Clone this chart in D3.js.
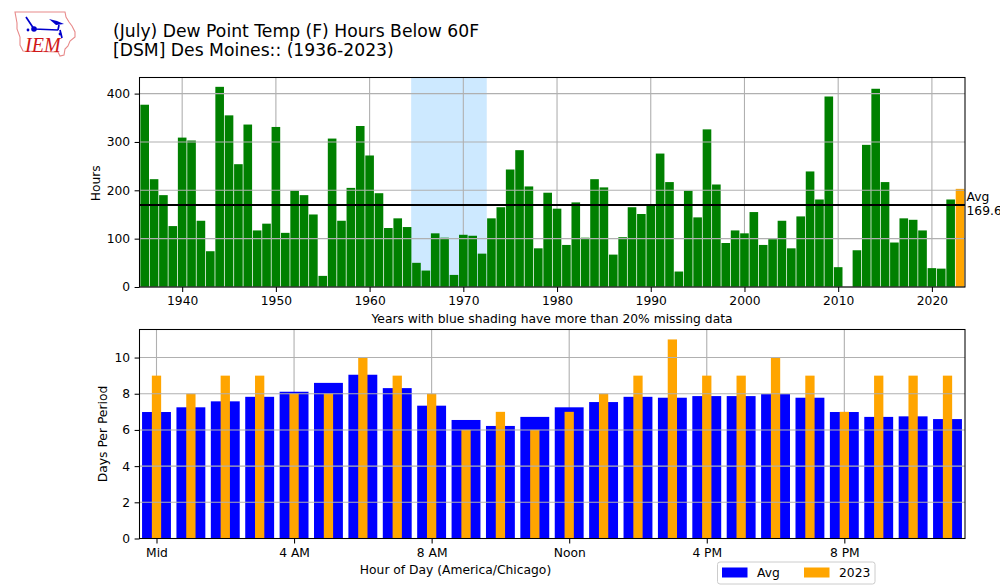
<!DOCTYPE html>
<html><head><meta charset="utf-8">
<script src="https://cdn.jsdelivr.net/npm/d3@7"></script>
<style>
html,body{margin:0;padding:0;background:#fff;}
svg{display:block;font-family:"DejaVu Sans",sans-serif;}
text{fill:#000;}
</style></head><body>
<svg id="c" width="1000" height="587"></svg>
<script>
const titleLines = ["(July) Dew Point Temp (F) Hours Below 60F", "[DSM] Des Moines:: (1936-2023)"];
const firstYear = 1936;
const yearHours = [377,223,190,126,309,303,137,74,414,355,254,336,117,131,331,112,199,190,150,23,307,137,205,333,272,194,122,142,124,50,34,111,102,25,108,106,69,142,165,243,283,208,80,195,162,87,175,102,223,206,67,103,165,151,169,276,217,32,199,144,326,212,91,117,111,155,87,99,137,80,146,239,181,394,41,0,76,294,410,217,92,142,139,117,39,38,181,203];
const years = yearHours.map((_, i) => firstYear + i);
const highlightYear = 2023;
const shadedYears = [1965, 1972];
const avgHours = 169.6;
const yearTicks = [1940,1950,1960,1970,1980,1990,2000,2010,2020];
const hourTicksTop = [0,100,200,300,400];
const hours = d3.range(24);
const avgDays = [6.99,7.25,7.58,7.83,8.11,8.6,9.05,8.31,7.34,6.55,6.22,6.72,7.25,7.54,7.83,7.78,7.87,7.87,7.98,7.78,6.99,6.72,6.75,6.6];
const days2023 = [9,8,9,9,8,8,10,9,8,6,7,6,7,8,9,11,9,9,10,9,7,9,9,9];
const hourTicks = [0,4,8,12,16,20];
const hourLabels = ["Mid","4 AM","8 AM","Noon","4 PM","8 PM"];
const dayTicks = [0,2,4,6,8,10];
const colors = {bar:"#008000", hi:"#ffa500", avg:"#0000ff", shade:"#cde9ff", grid:"#b0b0b0"};

const svg = d3.select("#c");
const tick = 12.3;

// title
svg.append("text").attr("x",113).attr("y",36.5).attr("font-size",17.2).text(titleLines[0]);
svg.append("text").attr("x",113).attr("y",55.5).attr("font-size",17.2).text(titleLines[1]);

// logo
const logo = svg.append("g");
logo.append("path").attr("fill","none").attr("stroke","#e88a8a").attr("stroke-width",1.1)
 .attr("d","M15,12 L65,12 L66,17 L69,22 L72,26 L75,32 L75,37 L70,41 L68,46 L65,49 L64,55 L60,56 L58,52 L23,51 L20,45 L20,37 L17,29 L17,23 Z");
logo.append("path").attr("fill","none").attr("stroke","#0000cc").attr("stroke-width",1.7)
 .attr("d","M34,29 L58,30 M34,29 L28,20 L26,17 M58,30 L59,25 M60,30 L62,38");
logo.append("path").attr("fill","#0000cc").attr("d","M49,19 L57,21 L64,24 L56,25 Z");
logo.append("circle").attr("cx",34).attr("cy",29).attr("r",2.8).attr("fill","#0000cc");
logo.append("circle").attr("cx",28).attr("cy",30).attr("r",1.4).attr("fill","#0000cc");
logo.append("circle").attr("cx",60).attr("cy",34).attr("r",1.4).attr("fill","#0000cc");
logo.append("text").attr("x",25).attr("y",52).attr("font-family","Liberation Serif").attr("font-style","italic")
 .attr("font-size",20).style("fill","#d01818").text("IEM");

// ---------- top panel ----------
const T = {l:139.5,r:965,t:77.5,b:287};
const x1 = d3.scaleLinear().domain([firstYear-0.5, highlightYear+0.5]).range([140,964.7]);
const y1 = d3.scaleLinear().domain([0,433.3]).range([T.b,T.t]);
const g1 = svg.append("g");
g1.append("rect").attr("x",x1(shadedYears[0]-0.5)-0.6).attr("width",x1(shadedYears[1]+0.5)-x1(shadedYears[0]-0.5)+0.6)
 .attr("y",T.t).attr("height",T.b-T.t).attr("fill",colors.shade);
g1.selectAll("line.vg").data(yearTicks).join("line").attr("class","vg")
 .attr("x1",d=>x1(d)).attr("x2",d=>x1(d)).attr("y1",T.t).attr("y2",T.b).attr("stroke",colors.grid).attr("stroke-width",1.1);
g1.selectAll("rect.bar").data(years).join("rect").attr("class","bar")
 .attr("x",d=>x1(d-0.46)).attr("width",x1(1)-x1(0.08))
 .attr("y",(d,i)=>y1(yearHours[i])).attr("height",(d,i)=>T.b-y1(yearHours[i]))
 .attr("fill",d=>d===highlightYear?colors.hi:colors.bar);
g1.selectAll("line.hg").data(hourTicksTop).join("line").attr("class","hg")
 .attr("x1",T.l).attr("x2",T.r).attr("y1",d=>y1(d)).attr("y2",d=>y1(d)).attr("stroke",colors.grid).attr("stroke-width",1.1);
g1.append("line").attr("x1",T.l).attr("x2",T.r).attr("y1",y1(avgHours)).attr("y2",y1(avgHours)).attr("stroke","#000").attr("stroke-width",2);
g1.append("text").attr("x",966.5).attr("y",y1(avgHours)-3.5).attr("font-size",tick).text("Avg");
g1.append("text").attr("x",966.5).attr("y",y1(avgHours)+10.5).attr("font-size",tick).text(avgHours.toFixed(1));

function axes(g,box,xs,ys,xt,yt,fmt){
  g.append("rect").attr("x",box.l).attr("y",box.t).attr("width",box.r-box.l).attr("height",box.b-box.t)
   .attr("fill","none").attr("stroke","#000").attr("stroke-width",1.05);
  const ax = d3.axisBottom(xs).tickValues(xt).tickSize(4.9).tickPadding(4.5).tickFormat(fmt);
  const xg = g.append("g").attr("transform",`translate(0,${box.b})`).call(ax);
  const ay = d3.axisLeft(ys).tickValues(yt).tickSize(4.9).tickPadding(4.5).tickFormat(d3.format("d"));
  const yg = g.append("g").attr("transform",`translate(${box.l},0)`).call(ay);
  [xg,yg].forEach(a=>{a.select(".domain").remove();
    a.attr("font-family","DejaVu Sans").attr("font-size",tick);
    a.selectAll("line").attr("stroke","#000").attr("stroke-width",1.05);
    a.selectAll("text").style("fill","#000");});
}
axes(g1,T,x1,y1,yearTicks,hourTicksTop,d3.format("d"));
svg.append("text").attr("transform",`translate(100,${(T.t+T.b)/2+1}) rotate(-90)`).attr("text-anchor","middle").attr("font-size",tick).text("Hours");
svg.append("text").attr("x",552).attr("y",323).attr("text-anchor","middle").attr("font-size",tick).text("Years with blue shading have more than 20% missing data");

// ---------- bottom panel ----------
const B = {l:139.5,r:965,t:329.5,b:538.5};
const x2 = d3.scaleLinear().domain([-0.5,23.5]).range([139.3,964.7]);
const y2 = d3.scaleLinear().domain([0,11.55]).range([B.b,B.t]);
const g2 = svg.append("g");
g2.selectAll("line.vg").data(hourTicks).join("line").attr("class","vg")
 .attr("x1",d=>x2(d)).attr("x2",d=>x2(d)).attr("y1",B.t).attr("y2",B.b).attr("stroke",colors.grid).attr("stroke-width",1.1);
g2.selectAll("rect.avg").data(hours).join("rect").attr("class","avg")
 .attr("x",d=>x2(d-0.42)).attr("width",x2(0.84)-x2(0))
 .attr("y",d=>y2(avgDays[d])).attr("height",d=>B.b-y2(avgDays[d])).attr("fill",colors.avg);
g2.selectAll("rect.cur").data(hours).join("rect").attr("class","cur")
 .attr("x",d=>x2(d-0.135)).attr("width",x2(0.27)-x2(0))
 .attr("y",d=>y2(days2023[d])).attr("height",d=>B.b-y2(days2023[d])).attr("fill",colors.hi);
g2.selectAll("line.hg").data(dayTicks).join("line").attr("class","hg")
 .attr("x1",B.l).attr("x2",B.r).attr("y1",d=>y2(d)).attr("y2",d=>y2(d)).attr("stroke",colors.grid).attr("stroke-width",1.1);
axes(g2,B,x2,y2,hourTicks,dayTicks,(d,i)=>hourLabels[i]);
svg.append("text").attr("transform",`translate(106.5,${(B.t+B.b)/2}) rotate(-90)`).attr("text-anchor","middle").attr("font-size",tick).text("Days Per Period");
svg.append("text").attr("x",455.5).attr("y",574).attr("text-anchor","middle").attr("font-size",tick).text("Hour of Day (America/Chicago)");

// legend
const lg = svg.append("g");
lg.append("rect").attr("x",717.5).attr("y",562).attr("width",157.5).attr("height",22).attr("rx",2.5)
 .attr("fill","#fff").attr("fill-opacity",0.8).attr("stroke","#ccc").attr("stroke-width",1);
const legendItems = [["Avg",colors.avg,722,757],["2023",colors.hi,804,839]];
legendItems.forEach(([t,c,px,tx])=>{
  lg.append("rect").attr("x",px).attr("y",567.5).attr("width",25.5).attr("height",10).attr("fill",c);
  lg.append("text").attr("x",tx).attr("y",577).attr("font-size",tick).text(t);
});
</script>
</body></html>
